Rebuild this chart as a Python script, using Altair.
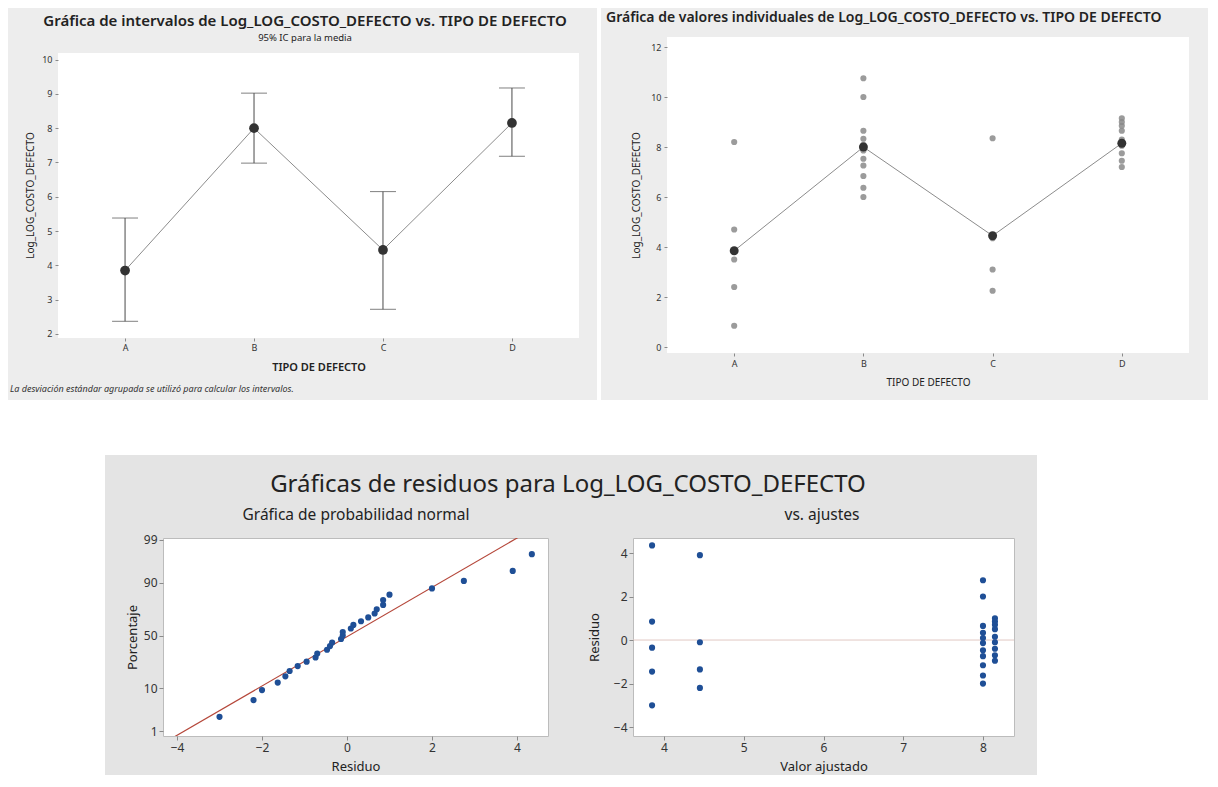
import altair as alt
import pandas as pd
from statistics import NormalDist, mean, stdev

# ---------------- data ----------------
categories = ["A", "B", "C", "D"]
valores_A = [8.2, 4.7, 3.5, 2.4, 0.85]
valores_B = [10.75, 10.0, 8.65, 8.33, 8.09, 7.86, 7.53, 7.26, 6.84, 6.37, 6.0]
valores_C = [8.35, 4.35, 3.1, 2.25]
valores_D = [9.15, 9.0, 8.85, 8.65, 8.3, 8.05, 7.75, 7.45, 7.2]
medias = [3.85, 8.0, 4.45, 8.15]
ic_inferior = [2.37, 6.98, 2.72, 7.18]
ic_superior = [5.38, 9.02, 6.15, 9.17]

ticks_intervalos = [2, 3, 4, 5, 6, 7, 8, 9, 10]
ticks_individuales = [0, 2, 4, 6, 8, 10, 12]
ticks_porcentaje = [1, 10, 50, 90, 99]
ticks_residuo = [-4, -2, 0, 2, 4]
ticks_ajuste = [4, 5, 6, 7, 8]

titulo_intervalos = "Gráfica de intervalos de Log_LOG_COSTO_DEFECTO vs. TIPO DE DEFECTO"
subtitulo_intervalos = "95% IC para la media"
nota_intervalos = "La desviación estándar agrupada se utilizó para calcular los intervalos."
titulo_individuales = "Gráfica de valores individuales de Log_LOG_COSTO_DEFECTO vs. TIPO DE DEFECTO"
titulo_residuos = "Gráficas de residuos para Log_LOG_COSTO_DEFECTO"
titulo_normal = "Gráfica de probabilidad normal"
titulo_ajustes = "vs. ajustes"
eje_y = "Log_LOG_COSTO_DEFECTO"
eje_x = "TIPO DE DEFECTO"

# ---------------- tables built from the lists ----------------
grupos = [valores_A, valores_B, valores_C, valores_D]
rows = []
for cat, vals, m in zip(categories, grupos, medias):
    for v in vals:
        rows.append({"tipo": cat, "valor": v, "ajuste": m, "residuo": v - m})
ind_df = pd.DataFrame(rows)
media_df = pd.DataFrame({"tipo": categories, "media": medias,
                         "lo": ic_inferior, "hi": ic_superior})

nd = NormalDist()
res_sorted = sorted(ind_df["residuo"])
n = len(res_sorted)
prob_df = pd.DataFrame({
    "residuo": res_sorted,
    "z": [nd.inv_cdf((i + 1 - 0.3) / (n + 0.4)) for i in range(n)],
})
mu, sd = mean(res_sorted), stdev(res_sorted)
linea_df = pd.DataFrame({"z": [-3.0, 3.0]})
linea_df["residuo"] = mu + sd * linea_df["z"]
z_ticks = [nd.inv_cdf(p / 100) for p in ticks_porcentaje]

one = pd.DataFrame({"k": [0]})
FONT = "Noto Sans"
GRAY_TOP = "#ededed"
GRAY_BOT = "#e4e4e4"


def rect(x, x2, y, y2, color):
    return alt.Chart(one).mark_rect(color=color).encode(
        x=alt.value(x), x2=alt.value(x2), y=alt.value(y), y2=alt.value(y2))


def label(text, x, y, size, weight="normal", align="center", style="normal", color="#222"):
    return alt.Chart(one).mark_text(
        text=text, fontSize=size, fontWeight=weight, align=align, baseline="middle",
        font=FONT, fontStyle=style, color=color).encode(x=alt.value(x), y=alt.value(y))


# ---------------- top-left: interval plot ----------------
W_TL, W_TR, H_TOP = 521, 522, 316
ax_x_tl = alt.Axis(title=eje_x, labelAngle=0, offset=-15, domain=False, tickSize=3,
                   labelPadding=2, titlePadding=9, titleFontWeight=600, titleFontSize=11,
                   labelFontSize=9, zindex=1)
ax_y_tl = alt.Axis(values=ticks_intervalos, title=eje_y, domain=False, tickSize=3,
                   labelPadding=3, titlePadding=6, titleFontSize=10, titleFontWeight="normal",
                   labelFontSize=9, zindex=1)
sx_tl = alt.Scale(type="point", domain=categories, padding=0.52)
sy_tl = alt.Scale(domain=[1.446, 10.656], nice=False, zero=False)


def X_tl():
    return alt.X("tipo:N", scale=sx_tl, axis=ax_x_tl)


def Y_tl(f):
    return alt.Y(f, type="quantitative", scale=sy_tl, axis=ax_y_tl)


base_tl = alt.Chart(media_df)
tl = alt.layer(
    rect(-50, 539, -29, 363, GRAY_TOP),
    rect(0, W_TL, 16, 301, "white"),
    label(titulo_intervalos, 247, -16, 15, weight=600),
    label(subtitulo_intervalos, 247, 1, 9.5),
    label(nota_intervalos, -48, 352, 9, align="left", style="italic", color="#333"),
    base_tl.mark_line(color="#8c8c8c", strokeWidth=1).encode(x=X_tl(), y=Y_tl("media")),
    base_tl.mark_rule(color="#4a4a4a", strokeWidth=1).encode(
        x=X_tl(), y=Y_tl("lo"), y2=alt.Y2("hi")),
    base_tl.mark_tick(color="#4a4a4a", size=26, thickness=1).encode(x=X_tl(), y=Y_tl("lo")),
    base_tl.mark_tick(color="#4a4a4a", size=26, thickness=1).encode(x=X_tl(), y=Y_tl("hi")),
    base_tl.mark_circle(color="#333333", size=95, opacity=1).encode(x=X_tl(), y=Y_tl("media")),
).properties(width=W_TL, height=H_TOP)

# ---------------- top-right: individual value plot ----------------
ax_x_tr = alt.Axis(title=eje_x, labelAngle=0, domain=False, tickSize=3, labelPadding=3,
                   titlePadding=9, titleFontSize=10, titleFontWeight="normal",
                   labelFontSize=9, zindex=1)
ax_y_tr = alt.Axis(values=ticks_individuales, title=eje_y, domain=False, tickSize=3,
                   labelPadding=3, titlePadding=9, titleFontSize=10, titleFontWeight="normal",
                   labelFontSize=9, zindex=1)
sx_tr = alt.Scale(type="point", domain=categories, padding=0.52)
sy_tr = alt.Scale(domain=[-0.24, 12.4], nice=False, zero=False)


def X_tr():
    return alt.X("tipo:N", scale=sx_tr, axis=ax_x_tr)


def Y_tr(f):
    return alt.Y(f, type="quantitative", scale=sy_tr, axis=ax_y_tr)


tr = alt.layer(
    rect(-66, 541, -29, 363, GRAY_TOP),
    rect(0, W_TR, 0, H_TOP, "white"),
    label(titulo_individuales, -61, -19, 14, weight=600, align="left"),
    alt.Chart(ind_df).mark_circle(color="#8a8a8a", size=38, opacity=0.85).encode(
        x=X_tr(), y=Y_tr("valor")),
    alt.Chart(media_df).mark_line(color="#8c8c8c", strokeWidth=1).encode(
        x=X_tr(), y=Y_tr("media")),
    alt.Chart(media_df).mark_circle(color="#333333", size=80, opacity=1).encode(
        x=X_tr(), y=Y_tr("media")),
).properties(width=W_TR, height=H_TOP)

# ---------------- bottom: residual plots ----------------
H_BOT = 198
W_BL, W_BR = 385, 381
spacer = alt.layer(
    rect(-50, 0, 0, 1, "white"),
    rect(47, 979, -83, 237, GRAY_BOT),
    label(titulo_residuos, 510, -53, 24),
).properties(width=20, height=H_BOT)

ax_common = dict(domain=False, tickSize=4, labelPadding=2, labelFontSize=12,
                 titleFontSize=13, titleFontWeight="normal", zindex=1)
sx_bl = alt.Scale(domain=[-4.33, 4.73], nice=False, zero=False)
sy_bl = alt.Scale(domain=[-2.448, 2.375], nice=False, zero=False)
ax_x_bl = alt.Axis(values=ticks_residuo, title="Residuo", titlePadding=7, **ax_common)
ax_y_bl = alt.Axis(values=z_ticks, title="Porcentaje", titlePadding=4,
                   labelExpr="format(cumulativeNormal(datum.value) * 100, '.0f')", **ax_common)

BLUE = "#1f4f96"
bl = alt.layer(
    label(titulo_normal, 193, -23, 15.5),
    alt.Chart(linea_df).mark_line(color="#b5473a", strokeWidth=1.2, clip=True).encode(
        x=alt.X("residuo:Q", scale=sx_bl, axis=ax_x_bl),
        y=alt.Y("z:Q", scale=sy_bl, axis=ax_y_bl)),
    alt.Chart(prob_df).mark_circle(color=BLUE, size=38, opacity=1).encode(
        x=alt.X("residuo:Q", scale=sx_bl, axis=ax_x_bl),
        y=alt.Y("z:Q", scale=sy_bl, axis=ax_y_bl)),
).properties(width=W_BL, height=H_BOT,
             view=alt.ViewBackground(fill="white", stroke="#bcbcbc"))

sx_br = alt.Scale(domain=[3.611, 8.389], nice=False, zero=False)
sy_br = alt.Scale(domain=[-4.41, 4.69], nice=False, zero=False)
ax_x_br = alt.Axis(values=ticks_ajuste, title="Valor ajustado", titlePadding=7, **ax_common)
ax_y_br = alt.Axis(values=ticks_residuo, title="Residuo", titlePadding=12, **ax_common)

br = alt.layer(
    label(titulo_ajustes, 189, -23, 15.5),
    alt.Chart(one).mark_rule(color="#e2c8c4", strokeWidth=1).encode(
        y=alt.Y(datum=0, type="quantitative", scale=sy_br, axis=ax_y_br)),
    alt.Chart(ind_df).mark_circle(color=BLUE, size=38, opacity=1).encode(
        x=alt.X("ajuste:Q", scale=sx_br, axis=ax_x_br),
        y=alt.Y("residuo:Q", scale=sy_br, axis=ax_y_br)),
).properties(width=W_BR, height=H_BOT,
             view=alt.ViewBackground(fill="white", stroke="#bcbcbc"))

top = alt.hconcat(tl, tr, spacing=88, bounds="flush")
bottom = alt.hconcat(spacer, bl, br, spacing=85, bounds="flush")

chart = alt.vconcat(top, bottom, spacing=55).properties(
    padding=0, background="white"
).configure_view(stroke=None).configure_axis(
    labelFont=FONT, titleFont=FONT, labelColor="#333333", titleColor="#222222",
    grid=False, tickColor="#8a8a8a"
)

chart.save("out.html", embed_options={"renderer": "svg", "actions": False})
